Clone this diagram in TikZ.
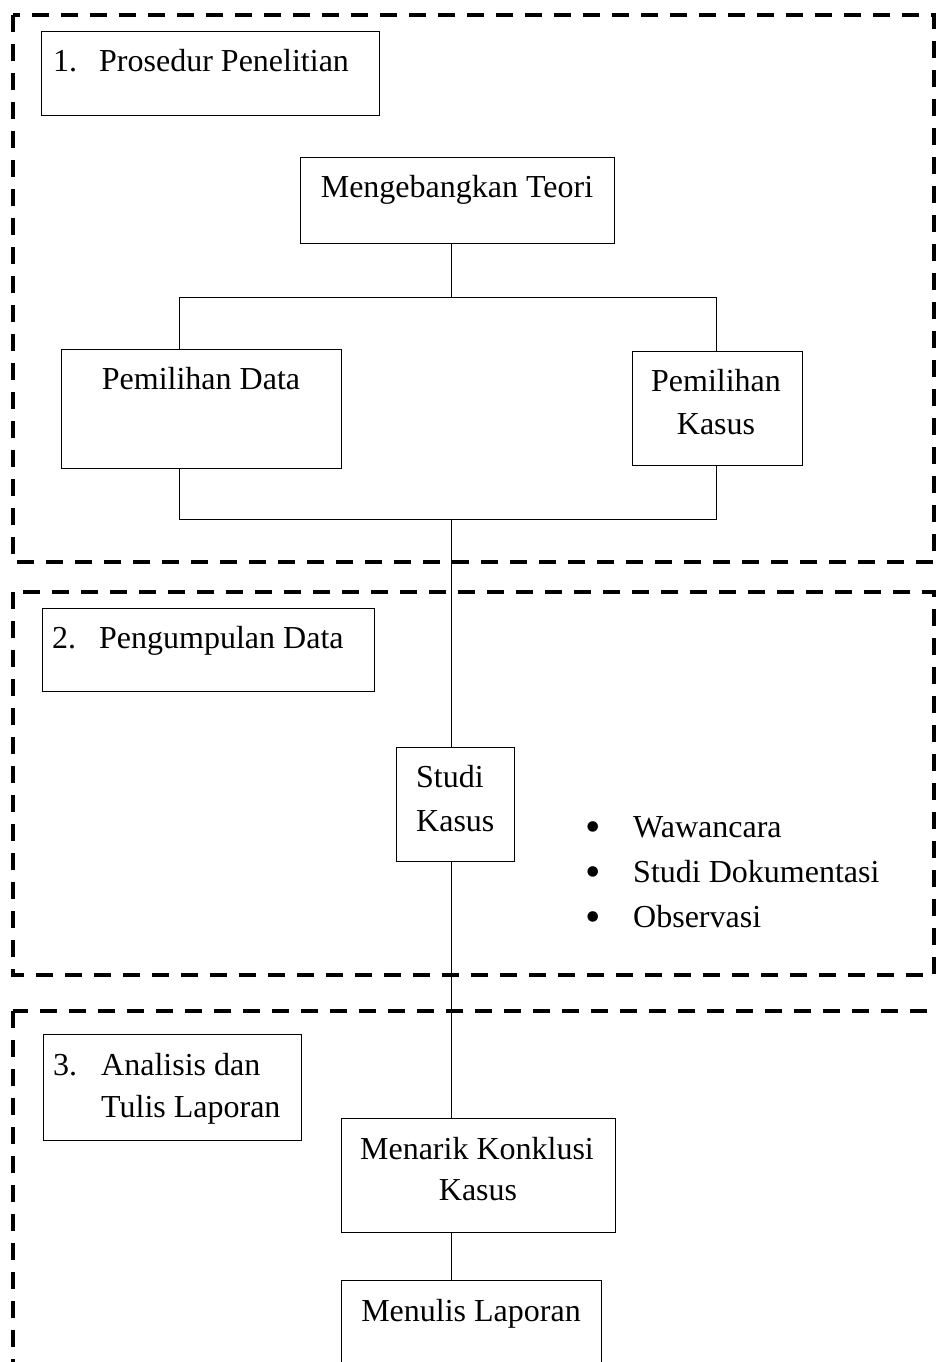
\documentclass[tikz,border=0pt]{standalone}
\usepackage{fontspec}
\setmainfont{Liberation Serif}
\begin{document}
\begin{tikzpicture}[x=1pt,y=-1pt,
  box/.style={draw, line width=1.1pt, inner sep=0pt, anchor=north west},
  txt/.style={font=\fontsize{32}{40}\selectfont, inner sep=0pt, anchor=base},
  ltxt/.style={txt, anchor=base west},
  bul/.style={font=\fontsize{44}{44}\selectfont, inner sep=0pt, anchor=base},
  frame/.style={draw, line width=3.6pt, dash pattern=on 17pt off 12pt},
  link/.style={draw, line width=1pt}]
\useasboundingbox (0,0) rectangle (937,1362);
\clip (0,0) rectangle (937,1362);
\fill[white] (0,0) rectangle (937,1362);

% dashed section frames
\draw[frame] (13,15) rectangle (934,562);
\draw[frame] (13,592) rectangle (934,975);
\draw[frame] (13,1011) rectangle (960,1420);

% boxes
\node[box, minimum width=338pt, minimum height=84pt] (prosedur) at (41,31) {};
\node[box, minimum width=314pt, minimum height=86pt] (teori) at (300,157) {};
\node[box, minimum width=280pt, minimum height=119pt] (data) at (61,349) {};
\node[box, minimum width=170pt, minimum height=114pt] (kasus) at (632,351) {};
\node[box, minimum width=332pt, minimum height=83pt] (kumpul) at (42,608) {};
\node[box, minimum width=118pt, minimum height=114pt] (studi) at (396,747) {};
\node[box, minimum width=258pt, minimum height=106pt] (analisis) at (43,1034) {};
\node[box, minimum width=274pt, minimum height=114pt] (menarik) at (341,1118) {};
\node[box, minimum width=260pt, minimum height=130pt] (menulis) at (341,1280) {};

% texts
\node[ltxt] (p1n) at (53,72) {1.};
\node[ltxt] (p1t) at (99,72) {Prosedur Penelitian};
\node[txt] (teorit) at (457,197) {Mengebangkan Teori};
\node[txt] (datat) at (201,389) {Pemilihan Data};
\node[txt] (kasust1) at (716,391) {Pemilihan};
\node[txt] (kasust2) at (716,434) {Kasus};
\node[ltxt] (p2n) at (52,648) {2.};
\node[ltxt] (p2t) at (99,648) {Pengumpulan Data};
\node[ltxt] (studit1) at (416,787) {Studi};
\node[ltxt] (studit2) at (416,831) {Kasus};
\node[bul] (b1) at (593,841) {•};
\node[bul] (b2) at (593,886) {•};
\node[bul] (b3) at (593,931) {•};
\node[ltxt] (l1) at (633,837) {Wawancara};
\node[ltxt] (l2) at (633,882) {Studi Dokumentasi};
\node[ltxt] (l3) at (633,927) {Observasi};
\node[ltxt] (p3n) at (53,1075) {3.};
\node[ltxt] (p3t1) at (101,1075) {Analisis dan};
\node[ltxt] (p3t2) at (101,1117) {Tulis Laporan};
\node[txt] (menarikt1) at (477,1159) {Menarik Konklusi};
\node[txt] (menarikt2) at (478,1200) {Kasus};
\node[txt] (menulist) at (471,1321) {Menulis Laporan};

% junctions
\coordinate (j1) at (451,297);
\coordinate (j1l) at (179,297);
\coordinate (j1r) at (716,297);
\coordinate (j2) at (451,519);
\coordinate (j2l) at (179,519);
\coordinate (j2r) at (716,519);

% connectors
\draw[link] (teori.south -| j1) -- (j1);
\draw[link] (j1l) -- (j1r);
\draw[link] (j1l) -- (j1l |- data.north);
\draw[link] (j1r) -- (j1r |- kasus.north);
\draw[link] (j2l |- data.south) -- (j2l) -- (j2r) -- (j2r |- kasus.south);
\draw[link] (j2) -- (j2 |- studi.north);
\draw[link] (j2 |- studi.south) -- (j2 |- menarik.north);
\draw[link] (j2 |- menarik.south) -- (j2 |- menulis.north);
\end{tikzpicture}
\end{document}
